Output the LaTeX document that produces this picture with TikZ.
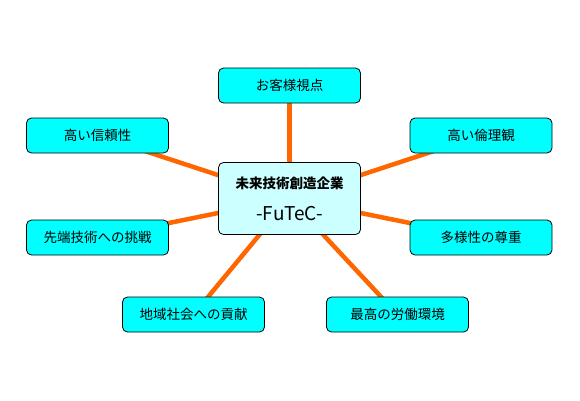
\documentclass[tikz,border=0pt]{standalone}
\usepackage{fontspec}
\setmainfont{Noto Sans CJK JP}
\definecolor{linkorange}{RGB}{255,102,0}
\definecolor{boxcyan}{RGB}{0,255,255}
\definecolor{corecyan}{RGB}{204,255,255}
\tikzset{
    lab/.style={
        font=\fontsize{13.5}{16}\selectfont
    }
}

\begin{document}
\begin{tikzpicture}[x=1pt,y=-1pt, line cap=round, line join=round]

\tikzset{
  link/.style={draw=linkorange, line width=4.5pt, line cap=butt},
  item/.style={rectangle, rounded corners=5pt, draw=black, line width=0.8pt, fill=boxcyan,
    minimum width=142pt, minimum height=35pt, inner sep=0pt, lab},
  core/.style={item, fill=corecyan, minimum height=72pt, align=center},
}

\useasboundingbox (0,0) rectangle (580,400);

% centre
\coordinate (C) at (289.5,198.5);
\coordinate (T) at (289.5,85.5);
\coordinate (UL) at (97.5,135.5);
\coordinate (UR) at (481,135.5);
\coordinate (ML) at (97.5,237.5);
\coordinate (MR) at (481,237.5);
\coordinate (LL) at (193.5,314.5);
\coordinate (LR) at (397.5,314.5);

% spokes
\foreach \p in {T,UL,UR,ML,MR,LL,LR}
  \draw[link] (C) -- (\p);

% boxes
\node[core] (core) at (C) {\textbf{未来技術創造企業}\\[16pt]{\fontsize{19}{20}\selectfont -FuTeC-}};
\node[item] (view) at (T) {お客様視点};
\node[item] (trust) at (UL) {高い信頼性};
\node[item] (ethic) at (UR) {高い倫理観};
\node[item] (tech) at (ML) {先端技術への挑戦};
\node[item] (div) at (MR) {多様性の尊重};
\node[item] (local) at (LL) {地域社会への貢献};
\node[item] (work) at (LR) {最高の労働環境};

\end{tikzpicture}
\end{document}
